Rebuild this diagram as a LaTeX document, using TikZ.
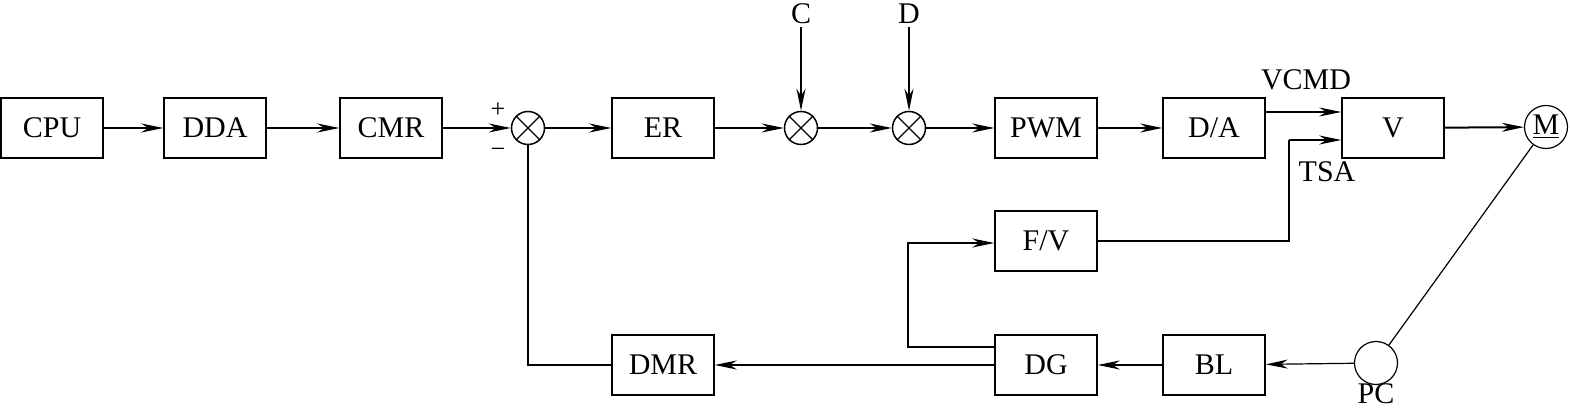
\documentclass[tikz,border=0pt]{standalone}
\usepackage{fontspec}
\setmainfont{Liberation Serif}
\usetikzlibrary{arrows.meta}
\tikzset{
  blk/.style={draw, line width=0.75pt, minimum width=51pt, minimum height=30pt, inner sep=0pt, font=\fontsize{15}{17}\selectfont},
  sumc/.style={circle, draw, line width=0.75pt, minimum size=16.5pt, inner sep=0pt},
  dev/.style={circle, draw, line width=0.6pt, minimum size=21.5pt, inner sep=0pt, font=\fontsize{15}{17}\selectfont},
  lbl/.style={inner sep=1.5pt, font=\fontsize{15}{17}\selectfont},
  sgn/.style={inner sep=0pt, font=\fontsize{13}{14}\selectfont},
  lnk/.style={line width=0.6pt},
  thk/.style={line width=1pt},
  arr/.style={-{Stealth[length=11pt, width=4.5pt, inset=3.5pt]}},
}
\begin{document}
\begin{tikzpicture}[x=0.5pt, y=-0.5pt]
\useasboundingbox (0,0) rectangle (1570,410);
% forward path
\node[blk] (cpu) at (52,128){CPU};
\node[blk] (dda) at (215,128){DDA};
\node[blk] (cmr) at (391,128){CMR};
\node[sumc] (s1) at (528,128){};
\node[blk] (er) at (663,128){ER};
\node[sumc] (s2) at (801,128){};
\node[sumc] (s3) at (909,128){};
\node[blk] (pwm) at (1046,128){PWM};
\node[blk] (da) at (1214,128){D/A};
\node[blk] (v) at (1393,128){V};
\node[dev] (m) at (1546,127){\underline{M}};
% feedback path
\node[blk] (fv) at (1046,241){F/V};
\node[blk] (dg) at (1046,365){DG};
\node[blk] (bl) at (1214,365){BL};
\node[blk] (dmr) at (663,365){DMR};
\node[dev] (pc) at (1376,363){};
% labels
\node[lbl] (lc) at (801,14){C};
\node[lbl] (ld) at (909,14){D};
\node[sgn] (lp) at (498,110){+};
\node[sgn] (lm) at (498,153){−};
\node[lbl] (lvcmd) at (1306,80){VCMD};
\node[lbl] (ltsa) at (1327,172){TSA};
\node[lbl] (lpc) at (1376,394){PC};
\foreach \s in {s1,s2,s3}{
  \draw[lnk] (\s.north west) -- (\s.south east) (\s.north east) -- (\s.south west);
}
\draw[thk, arr] (cpu) -- (dda);
\draw[lnk, arr] (dda) -- (cmr);
\draw[lnk, arr] (cmr) -- (s1);
\draw[lnk, arr] (s1) -- (er);
\draw[lnk, arr] (er) -- (s2);
\draw[lnk, arr] (s2) -- (s3);
\draw[lnk, arr] (s3) -- (pwm);
\draw[thk, arr] (lc) -- (s2);
\draw[thk, arr] (ld) -- (s3);
\draw[thk, arr] (pwm) -- (da);
\draw[lnk, arr] ([yshift=8pt]da.east) -- ([yshift=8pt]v.west);
\draw[thk] (fv.east) -| (1289,140);
\draw[lnk, arr] (1289,140) -- ([yshift=-6pt]v.west);
\draw[thk, arr] (v) -- (m);
\draw[lnk] (m) -- (pc);
\draw[lnk, arr] (pc) -- (bl);
\draw[thk, arr] (bl) -- (dg);
\draw[thk, arr] (dg) -- (dmr);
\draw[thk, arr] ([yshift=9pt]dg.west) -| (908,243) -- ([yshift=-1pt]fv.west);
\draw[lnk] (dmr.west) -| (s1.south);
\end{tikzpicture}
\end{document}
